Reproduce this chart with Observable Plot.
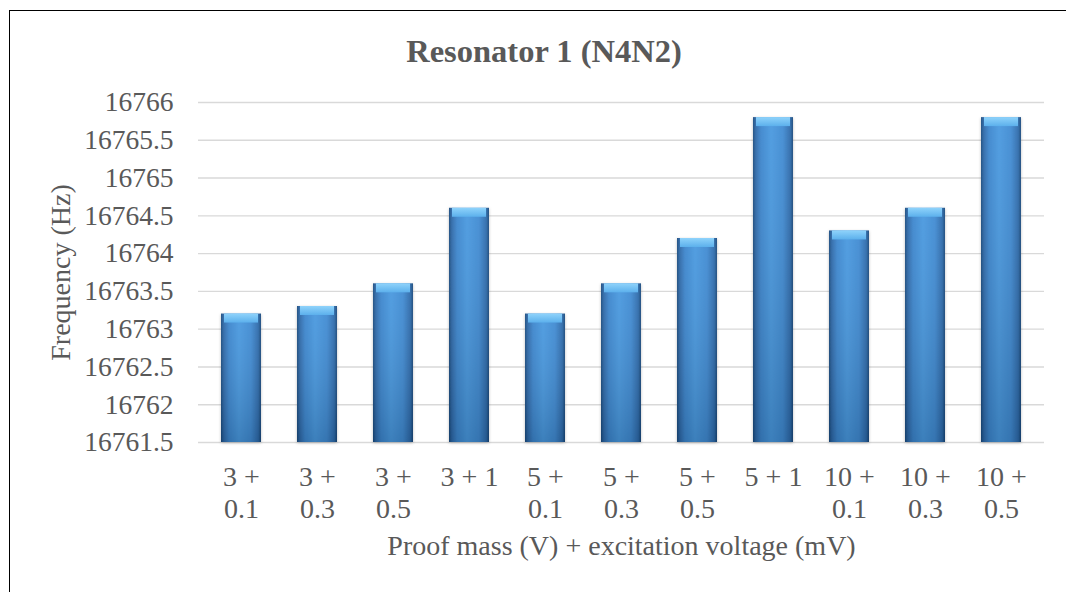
<!DOCTYPE html>
<html>
<head>
<meta charset="utf-8">
<script src="https://cdn.jsdelivr.net/npm/d3@7"></script>
<script src="https://cdn.jsdelivr.net/npm/@observablehq/plot@0.6"></script>
<style>
  html, body { margin: 0; padding: 0; background: #fff; overflow: hidden; }
  #wrap { position: relative; width: 1066px; height: 592px; overflow: hidden; font-family: "Liberation Serif", "Times New Roman", serif; }
  #frame { position: absolute; left: 9px; top: 10px; width: 1200px; height: 800px; border: 1.5px solid #000; box-sizing: border-box; }
  #title { position: absolute; left: 0; width: 1066px; top: 33px; text-align: center; padding-left: 22px; box-sizing: border-box;
           font-family: "Liberation Serif", "Times New Roman", serif; font-weight: bold; font-size: 32.5px; color: #595959; line-height: 36px; }
  #chart { position: absolute; left: 0; top: 0; }
</style>
</head>
<body>
<div id="wrap">
  <div id="frame"></div>
  <div id="chart"></div>
  <div id="title">Resonator 1 (N4N2)</div>
</div>
<script>
const titleText = "Resonator 1 (N4N2)";
const xTitle = "Proof mass (V) + excitation voltage (mV)";
const yTitle = "Frequency (Hz)";
const categories = ["3 +\n0.1", "3 +\n0.3", "3 +\n0.5", "3 + 1", "5 +\n0.1", "5 +\n0.3", "5 +\n0.5", "5 + 1", "10 +\n0.1", "10 +\n0.3", "10 +\n0.5"];
const frequencies = [16763.2, 16763.3, 16763.6, 16764.6, 16763.2, 16763.6, 16764.2, 16765.8, 16764.3, 16764.6, 16765.8];
const yTicks = [16761.5, 16762, 16762.5, 16763, 16763.5, 16764, 16764.5, 16765, 16765.5, 16766];
const yMin = 16761.5, yMax = 16766;

const data = categories.map((c, i) => ({cat: c, val: frequencies[i]}));

function defs() {
  const ns = "http://www.w3.org/2000/svg";
  const d = document.createElementNS(ns, "defs");
  d.innerHTML = `
    <linearGradient id="barH" x1="0" x2="1" y1="0" y2="0">
      <stop offset="0" stop-color="#1b4a7e"/>
      <stop offset="0.07" stop-color="#2c68a8"/>
      <stop offset="0.2" stop-color="#3b85cd"/>
      <stop offset="0.45" stop-color="#4798df"/>
      <stop offset="0.75" stop-color="#3f8ad2"/>
      <stop offset="0.93" stop-color="#2d6aab"/>
      <stop offset="1" stop-color="#1a487a"/>
    </linearGradient>
    <linearGradient id="barV" x1="0" x2="0" y1="0" y2="1">
      <stop offset="0" stop-color="#ffffff" stop-opacity="0.06"/>
      <stop offset="1" stop-color="#000000" stop-opacity="0.16"/>
    </linearGradient>
    <linearGradient id="bevel" x1="0" x2="0" y1="0" y2="1">
      <stop offset="0" stop-color="#8fd3fb"/>
      <stop offset="1" stop-color="#5cb0ec"/>
    </linearGradient>
    <filter id="shadow" x="-20%" y="-5%" width="140%" height="110%">
      <feDropShadow dx="0" dy="1" stdDeviation="1.5" flood-color="#000" flood-opacity="0.25"/>
    </filter>`;
  return d;
}

const plot = Plot.plot({
  width: 1066,
  height: 592,
  marginLeft: 198,
  marginRight: 22,
  marginTop: 102,
  marginBottom: 150,
  style: {fontFamily: "'Liberation Serif', 'Times New Roman', serif", color: "#595959", background: "transparent", overflow: "visible"},
  x: {domain: categories, paddingInner: 0.48, paddingOuter: 0.24, axis: null},
  y: {domain: [yMin, yMax], axis: null},
  marks: [
    defs,
    Plot.gridY(yTicks, {stroke: "#d9d9d9", strokeOpacity: 1, strokeWidth: 1.4}),
    Plot.barY(data, {x: "cat", y1: yMin, y2: "val", fill: "url(#barH)", className: "bars"}),
    Plot.barY(data, {x: "cat", y1: yMin, y2: "val", fill: "url(#barV)"}),
    Plot.barY(data, {x: "cat", y1: "val", y2: "val", insetBottom: -9, insetLeft: 3, insetRight: 3, fill: "url(#bevel)"}),
    Plot.axisY({ticks: yTicks, tickSize: 0, tickPadding: 25, tickFormat: d => String(d), fontSize: 27.5, fill: "#595959", label: null}),
    Plot.axisX({tickSize: 0, tickPadding: 20, fontSize: 28, lineHeight: 1.16, fill: "#595959", label: null}),
    Plot.text([xTitle], {frameAnchor: "bottom", dy: 112, fontSize: 28, fill: "#595959", text: d => d}),
    Plot.text([yTitle], {frameAnchor: "left", textAnchor: "middle", dx: -137, rotate: -90, fontSize: 28, fill: "#595959", text: d => d})
  ]
});
const bars = plot.querySelector("g.bars");
if (bars) bars.setAttribute("filter", "url(#shadow)");
document.getElementById("chart").appendChild(plot);
</script>
</body>
</html>
